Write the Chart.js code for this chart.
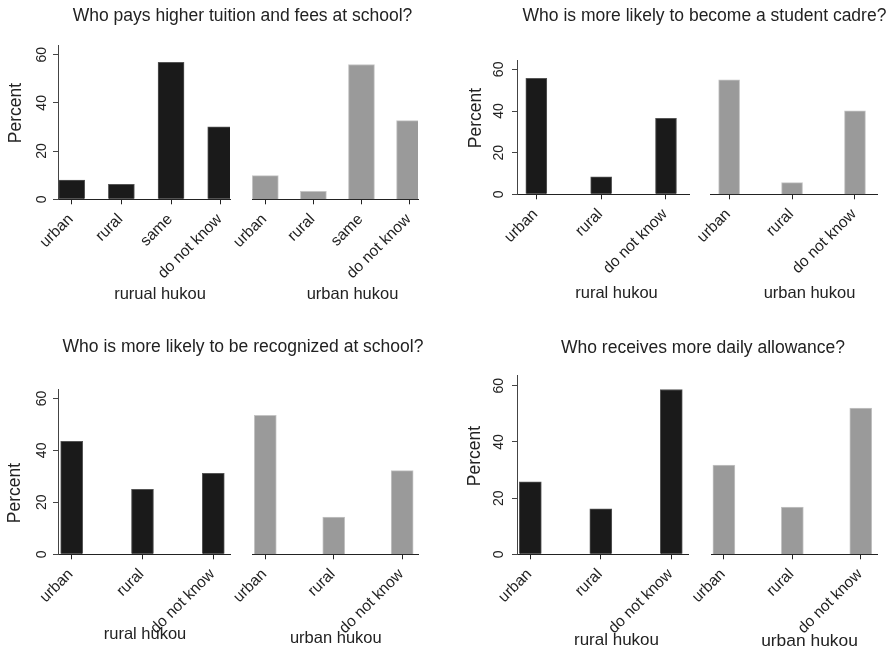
<!DOCTYPE html>
<html>
<head>
<meta charset="utf-8">
<script src="https://cdn.jsdelivr.net/npm/chart.js@4.4.1/dist/chart.umd.min.js"></script>
<style>
  html, body { margin: 0; padding: 0; background: #fff; }
  #wrap { position: relative; width: 894px; height: 650px; overflow: hidden;
          font-family: "Liberation Sans", Arial, Helvetica, sans-serif; color: #222; }
  #wrap canvas { position: absolute; left: 0; top: 0; }
  .lbl { position: absolute; white-space: nowrap; line-height: 1; transform: translate(-50%, -50%); }
  .rot { transform: translate(-50%, -50%) rotate(-90deg); }
</style>
</head>
<body>
<div id="wrap"></div>
<script>
// Answer categories
const answersWithSame = ['urban', 'rural', 'same', 'do not know'];
const answers = ['urban', 'rural', 'do not know'];

// Percent answering, by respondent hukou
const tuitionRural    = [8.0, 6.2, 56.8, 30.1];
const tuitionUrban    = [9.8, 3.3, 55.9, 32.6];
const cadreRural      = [55.7, 8.4, 36.5];
const cadreUrban      = [55.0, 5.6, 40.1];
const recognizedRural = [43.5, 25.0, 31.2];
const recognizedUrban = [53.5, 14.3, 32.2];
const allowanceRural  = [25.8, 16.2, 58.7];
const allowanceUrban  = [31.8, 16.8, 52.1];

const yTicks = [0, 20, 40, 60];

const questions = [
  'Who pays higher tuition and fees at school?',
  'Who is more likely to become a student cadre?',
  'Who is more likely to be recognized at school?',
  'Who receives more daily allowance?'
];
const groupLabels = [
  ['rurual hukou', 'urban hukou'],
  ['rural hukou', 'urban hukou'],
  ['rural hukou', 'urban hukou'],
  ['rural hukou', 'urban hukou']
];

const FONT = '"Liberation Sans", Arial, Helvetica, sans-serif';
const W = 894, H = 650;
const BLACK = '#1a1a1a', GREY = '#9a9a9a';

// Rotated y tick labels drawn from the y scale's own ticks
const yTickLabels = {
  id: 'yTickLabels',
  afterDraw(chart, args, opts) {
    const ctx = chart.ctx, ys = chart.scales.y;
    ctx.save();
    ctx.font = opts.size + 'px ' + FONT;
    ctx.fillStyle = '#222';
    ctx.textAlign = 'center';
    ctx.textBaseline = 'middle';
    ys.ticks.forEach(t => {
      const py = ys.getPixelForValue(t.value);
      ctx.save();
      ctx.translate(chart.chartArea.left - opts.offset, py);
      ctx.rotate(-Math.PI / 2);
      ctx.fillText(String(t.value), 0, 0);
      ctx.restore();
    });
    ctx.restore();
  }
};

const wrap = document.getElementById('wrap');

function subplot(p) {
  const canvas = document.createElement('canvas');
  canvas.width = W; canvas.height = H;
  canvas.style.width = W + 'px'; canvas.style.height = H + 'px';
  wrap.appendChild(canvas);
  const cats = p.cats;
  const xAxisH = 90;   // room for the slanted category labels
  new Chart(canvas, {
    type: 'bar',
    data: {
      datasets: [{
        data: p.values.map((v, i) => ({ x: i, y: v })),
        backgroundColor: p.color,
        borderColor: p.edge,
        borderWidth: 1,
        borderSkipped: 'bottom',
        barThickness: p.barW
      }]
    },
    options: {
      responsive: false,
      animation: false,
      devicePixelRatio: 1,
      layout: {
        padding: {
          left: p.box[0] - (p.showY ? 5 : 0),
          right: W - p.box[1],
          top: p.box[2],
          bottom: H - p.box[3] - xAxisH
        }
      },
      plugins: {
        legend: { display: false },
        tooltip: { enabled: false },
        yTickLabels: { offset: p.yLabOff || 17, size: 14 }
      },
      scales: {
        x: {
          type: 'linear',
          offset: false,
          min: p.xRange[0],
          max: p.xRange[1],
          afterBuildTicks: s => { s.ticks = cats.map((_, i) => ({ value: i })); },
          afterFit: s => { s.height = xAxisH; },
          ticks: {
            autoSkip: false,
            minRotation: 45,
            maxRotation: 45,
            padding: 6,
            labelOffset: -1,
            color: '#222',
            font: { family: FONT, size: p.xFont || 15.5 },
            callback: v => cats[v]
          },
          grid: { display: true, offset: false, drawOnChartArea: false, drawTicks: true,
                  tickLength: 5, color: '#222', lineWidth: 1 },
          border: { display: true, color: '#222', width: 1 }
        },
        y: {
          display: p.showY,
          min: 0,
          max: p.yMax,
          afterBuildTicks: s => { s.ticks = yTicks.map(v => ({ value: v })); },
          afterFit: s => { s.width = 5; },
          ticks: { display: false },
          grid: { display: true, drawOnChartArea: false, drawTicks: true,
                  tickLength: 5, color: '#444', lineWidth: 1 },
          border: { display: true, color: '#444', width: 1 }
        }
      }
    },
    plugins: p.showY ? [yTickLabels] : []
  });
}

function text(str, x, y, size, rotated) {
  const d = document.createElement('div');
  d.className = 'lbl' + (rotated ? ' rot' : '');
  d.textContent = str;
  d.style.left = x + 'px';
  d.style.top = y + 'px';
  d.style.fontSize = size + 'px';
  wrap.appendChild(d);
}

// Panel 1: tuition and fees
subplot({ cats: answersWithSame, values: tuitionRural, color: BLACK, edge: '#555', barW: 26,
          showY: true, yMax: 64.0, box: [58, 230, 45, 199.3], xRange: [-0.276, 3.187], yLabOff: 16.3 });
subplot({ cats: answersWithSame, values: tuitionUrban, color: GREY, edge: '#c4c4c4', barW: 26,
          showY: false, yMax: 64.0, box: [247, 418, 45, 199.3], xRange: [-0.277, 3.176] });

// Panel 2: student cadre
subplot({ cats: answers, values: cadreRural, color: BLACK, edge: '#555', barW: 21,
          showY: true, yMax: 64.5, box: [517, 689, 60, 194.3], xRange: [-0.298, 2.355], yLabOff: 18 });
subplot({ cats: answers, values: cadreUrban, color: GREY, edge: '#c4c4c4', barW: 21,
          showY: false, yMax: 64.5, box: [705, 877, 60, 194.3], xRange: [-0.304, 2.35] });

// Panel 3: recognition at school
subplot({ cats: answers, values: recognizedRural, color: BLACK, edge: '#555', barW: 22,
          showY: true, yMax: 63.5, box: [58, 230, 389.3, 554.3], xRange: [-0.193, 2.236], yLabOff: 16.3 });
subplot({ cats: answers, values: recognizedUrban, color: GREY, edge: '#c4c4c4', barW: 22,
          showY: false, yMax: 63.5, box: [247, 418, 389.3, 554.3], xRange: [-0.194, 2.231] });

// Panel 4: daily allowance
subplot({ cats: answers, values: allowanceRural, color: BLACK, edge: '#555', barW: 22,
          showY: true, yMax: 63.6, box: [517, 688.7, 375.7, 554.3], xRange: [-0.189, 2.247], yLabOff: 18 });
subplot({ cats: answers, values: allowanceUrban, color: GREY, edge: '#c4c4c4', barW: 22,
          showY: false, yMax: 63.6, box: [706.3, 877, 375.7, 554.3], xRange: [-0.184, 2.237] });

// Panel titles
text(questions[0], 242.5, 15.5, 17.5);
text(questions[1], 704.5, 15.5, 17.5);
text(questions[2], 243, 347, 17.5);
text(questions[3], 703, 347.5, 17.5);

// Group labels under each half
text(groupLabels[0][0], 160, 292.5, 16.5);
text(groupLabels[0][1], 352.5, 292.5, 16.5);
text(groupLabels[1][0], 616.5, 291.7, 16.5);
text(groupLabels[1][1], 809.5, 291.7, 16.5);
text(groupLabels[2][0], 145, 632.7, 16.5);
text(groupLabels[2][1], 335.8, 637.3, 16.5);
text(groupLabels[3][0], 616.5, 639.3, 17);
text(groupLabels[3][1], 809.5, 640.7, 17.4);

// y axis titles
text('Percent', 16.3, 113.3, 17.5, true);
text('Percent', 476.3, 118.3, 17.5, true);
text('Percent', 15, 492.5, 17.5, true);
text('Percent', 475.3, 455.5, 17.5, true);
</script>
</body>
</html>
